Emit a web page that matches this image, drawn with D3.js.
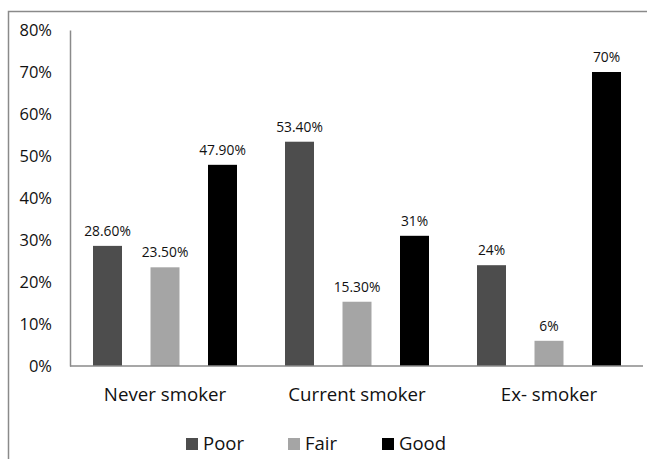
<!DOCTYPE html>
<html>
<head>
<meta charset="utf-8">
<script src="https://cdn.jsdelivr.net/npm/d3@7/dist/d3.min.js"></script>
<style>
  html, body { margin: 0; padding: 0; background: #fff; }
  svg { display: block; font-family: "Open Sans", sans-serif; }
</style>
</head>
<body>
<svg id="chart" width="647" height="459"></svg>
<script>
// Smoking status groups and self-rated health shares (%)
const categories = ["Never smoker", "Current smoker", "Ex- smoker"];
const series = ["Poor", "Fair", "Good"];
const poor = [28.6, 53.4, 24];
const fair = [23.5, 15.3, 6];
const good = [47.9, 31, 70];
const valueLabels = [
  ["28.60%", "53.40%", "24%"],
  ["23.50%", "15.30%", "6%"],
  ["47.90%", "31%", "70%"]
];
const yTicks = [0, 10, 20, 30, 40, 50, 60, 70, 80];
const colors = ["#4d4d4d", "#a5a5a5", "#000000"];

const values = [poor, fair, good];
const FONT = "'Open Sans', sans-serif";

const svg = d3.select("#chart");

// outer frame (top and left edges)
svg.append("path")
  .attr("d", "M8.5,459 V11.5 H647")
  .attr("fill", "none")
  .attr("stroke", "#8a8a8a")
  .attr("stroke-width", 1.5);

const x0 = d3.scaleBand().domain(categories).range([69, 645]).padding(0);
const x1 = d3.scalePoint().domain(series).range([-57.5, 57.5]);
const barW = 29;
const y = d3.scaleLinear().domain([0, 80]).range([366, 30]);

// y-axis labels
const yAxis = d3.axisLeft(y)
  .tickValues(yTicks)
  .tickSize(0)
  .tickPadding(18)
  .tickFormat(d => d + "%");
const gy = svg.append("g").attr("transform", "translate(70,0)").call(yAxis);
gy.select(".domain").attr("stroke", "#8a8a8a").attr("stroke-width", 1.5);
gy.selectAll("text")
  .attr("font-size", 16.5)
  .attr("fill", "#111")
  .attr("font-family", FONT);

// bars and value labels
series.forEach((s, si) => {
  svg.append("g").selectAll("rect")
    .data(categories)
    .join("rect")
    .attr("x", (c) => x0(c) + x0.bandwidth() / 2 + x1(s) - barW / 2)
    .attr("y", (c, i) => y(values[si][i]))
    .attr("width", barW)
    .attr("height", (c, i) => y(0) - y(values[si][i]))
    .attr("fill", colors[si]);

  svg.append("g").selectAll("text")
    .data(categories)
    .join("text")
    .attr("x", (c) => x0(c) + x0.bandwidth() / 2 + x1(s))
    .attr("y", (c, i) => y(values[si][i]) - 10)
    .attr("text-anchor", "middle")
    .attr("font-size", 13.8)
    .attr("fill", "#111")
    .text((c, i) => valueLabels[si][i]);
});

// x-axis baseline and category labels
const xAxis = d3.axisBottom(x0).tickSize(0).tickPadding(22);
const gx = svg.append("g").attr("transform", `translate(0,${y(0)})`).call(xAxis);
gx.select(".domain").attr("d", "M70,0H643").attr("stroke", "#8a8a8a").attr("stroke-width", 1.5);
gx.selectAll("text")
  .attr("font-size", 18.7)
  .attr("fill", "#111")
  .attr("font-family", FONT);

// legend
const legendX = [186, 288, 382];
const legend = svg.append("g");
series.forEach((s, i) => {
  legend.append("rect")
    .attr("x", legendX[i])
    .attr("y", 438)
    .attr("width", 12)
    .attr("height", 12)
    .attr("fill", colors[i]);
  legend.append("text")
    .attr("x", legendX[i] + 17)
    .attr("y", 450)
    .attr("font-size", 18.5)
    .attr("fill", "#111")
    .text(s);
});
</script>
</body>
</html>
